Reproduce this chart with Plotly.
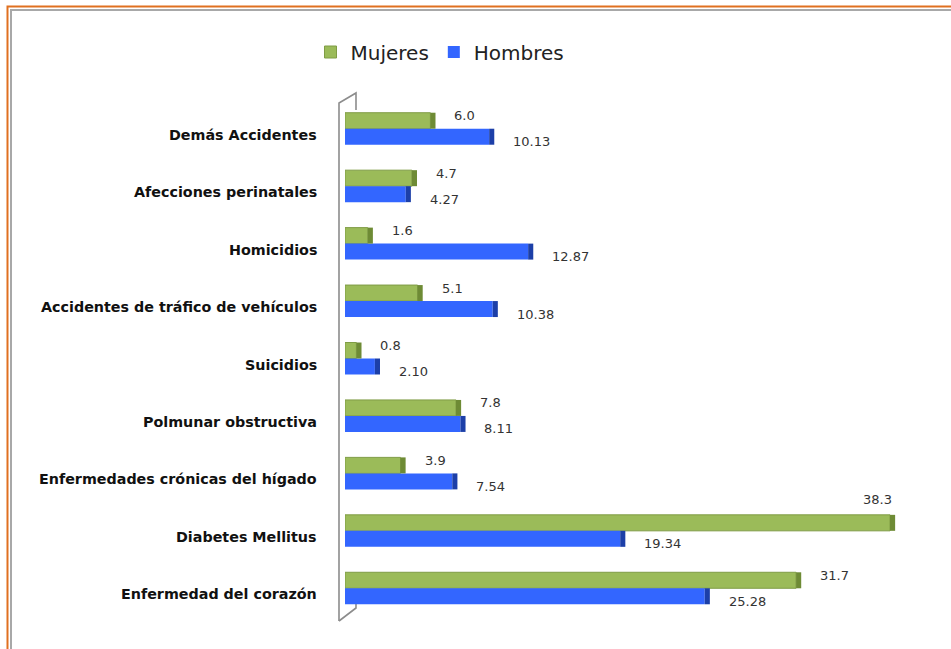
import plotly.graph_objects as go

categories = ["Demás Accidentes", "Afecciones perinatales", "Homicidios",
              "Accidentes de tráfico de vehículos", "Suicidios", "Polmunar obstructiva",
              "Enfermedades crónicas del hígado", "Diabetes Mellitus", "Enfermedad del corazón"]
mujeres = [6.0, 4.7, 1.6, 5.1, 0.8, 7.8, 3.9, 38.3, 31.7]
hombres = [10.13, 4.27, 12.87, 10.38, 2.10, 8.11, 7.54, 19.34, 25.28]
mujeres_text = ["6.0", "4.7", "1.6", "5.1", "0.8", "7.8", "3.9", "38.3", "31.7"]
hombres_text = ["10.13", "4.27", "12.87", "10.38", "2.10", "8.11", "7.54", "19.34", "25.28"]

W, H = 951, 649
ML, MR, MT, MB = 345, 16, 100, 32
PW, PH = W - ML - MR, H - MT - MB
XMAX = PW / 14.23
DEPTH = 0.36

G_FRONT, G_SIDE = "#9BBB59", "#6E8B35"
B_FRONT, B_SIDE = "#3366FF", "#1C3FA8"

fig = go.Figure()
fig.add_trace(go.Bar(y=categories, x=mujeres, orientation="h", name="Mujeres",
                     offsetgroup="m", marker=dict(color=G_FRONT, line=dict(color="#7F9C45", width=1))))
fig.add_trace(go.Bar(y=categories, x=hombres, orientation="h", name="Hombres",
                     offsetgroup="h", marker=dict(color=B_FRONT, line=dict(width=0))))
fig.add_trace(go.Bar(y=categories, x=[DEPTH] * len(mujeres), base=mujeres, orientation="h",
                     offsetgroup="m", showlegend=False, hoverinfo="skip",
                     marker=dict(color=G_SIDE, line=dict(width=0))))
fig.add_trace(go.Bar(y=categories, x=[DEPTH] * len(hombres), base=hombres, orientation="h",
                     offsetgroup="h", showlegend=False, hoverinfo="skip",
                     marker=dict(color=B_SIDE, line=dict(width=0))))

pxu = PW / XMAX
annotations = []
lab_font = dict(family="DejaVu Sans", size=13, color="#333333")
for c, v, t in zip(categories, mujeres, mujeres_text):
    if v * pxu + 24 + 38 > PW:
        annotations.append(dict(x=v, y=c, xref="x", yref="y", text=t, showarrow=False,
                                xanchor="right", xshift=4, yshift=31, font=lab_font))
    else:
        annotations.append(dict(x=v, y=c, xref="x", yref="y", text=t, showarrow=False,
                                xanchor="left", xshift=22, yshift=13, font=lab_font))
for c, v, t in zip(categories, hombres, hombres_text):
    annotations.append(dict(x=v, y=c, xref="x", yref="y", text=t, showarrow=False,
                            xanchor="left", xshift=22, yshift=-13, font=lab_font))
for c in categories:
    annotations.append(dict(x=0, y=c, xref="x", yref="y", text="<b>%s</b>" % c, showarrow=False,
                            xanchor="right", xshift=-26, yshift=-6,
                            font=dict(family="DejaVu Sans", size=14.3, color="#111111")))


def px(xp):
    return (xp - ML) / PW


def py(yp):
    return (H - MB - yp) / PH


def frame(x, y, color):
    return dict(type="path", xref="paper", yref="paper",
                path="M %f %f L %f %f L %f %f" % (px(x), py(H + 5), px(x), py(y), px(W + 5), py(y)),
                line=dict(color=color, width=2), layer="below")


shapes = [
    frame(7.5, 6.5, "#E07020"),
    frame(11, 10, "#A8A8A8"),
    # wall (3D axis)
    dict(type="path", xref="paper", yref="paper",
         path="M %f %f L %f %f L %f %f L %f %f" % (px(356), py(110), px(356), py(93), px(339), py(103), px(339), py(621)),
         line=dict(color="#8C8C8C", width=1.6), layer="below"),
    dict(type="path", xref="paper", yref="paper",
         path="M %f %f L %f %f L %f %f" % (px(339), py(621), px(356), py(608), px(356), py(603)),
         line=dict(color="#8C8C8C", width=1.6), layer="below"),
]

fig.update_layout(
    width=W, height=H, margin=dict(l=ML, r=MR, t=MT, b=MB),
    paper_bgcolor="white", plot_bgcolor="white",
    barmode="group", bargap=0.443, bargroupgap=0,
    xaxis=dict(range=[0, XMAX], showgrid=False, zeroline=False, showticklabels=False,
               showline=False, ticks=""),
    yaxis=dict(autorange="reversed", showgrid=False, zeroline=False, showticklabels=False,
               showline=False, ticks=""),
    legend=dict(orientation="h", x=px(440), xanchor="center", y=py(52), yanchor="middle",
                font=dict(family="DejaVu Sans", size=20, color="#222222"), itemwidth=30,
                bgcolor="rgba(0,0,0,0)"),
    annotations=annotations, shapes=shapes, showlegend=True,
)

fig.write_html("out.html", config={"displayModeBar": False},
               post_script="document.body.style.margin='0';document.body.style.overflow='hidden';")
